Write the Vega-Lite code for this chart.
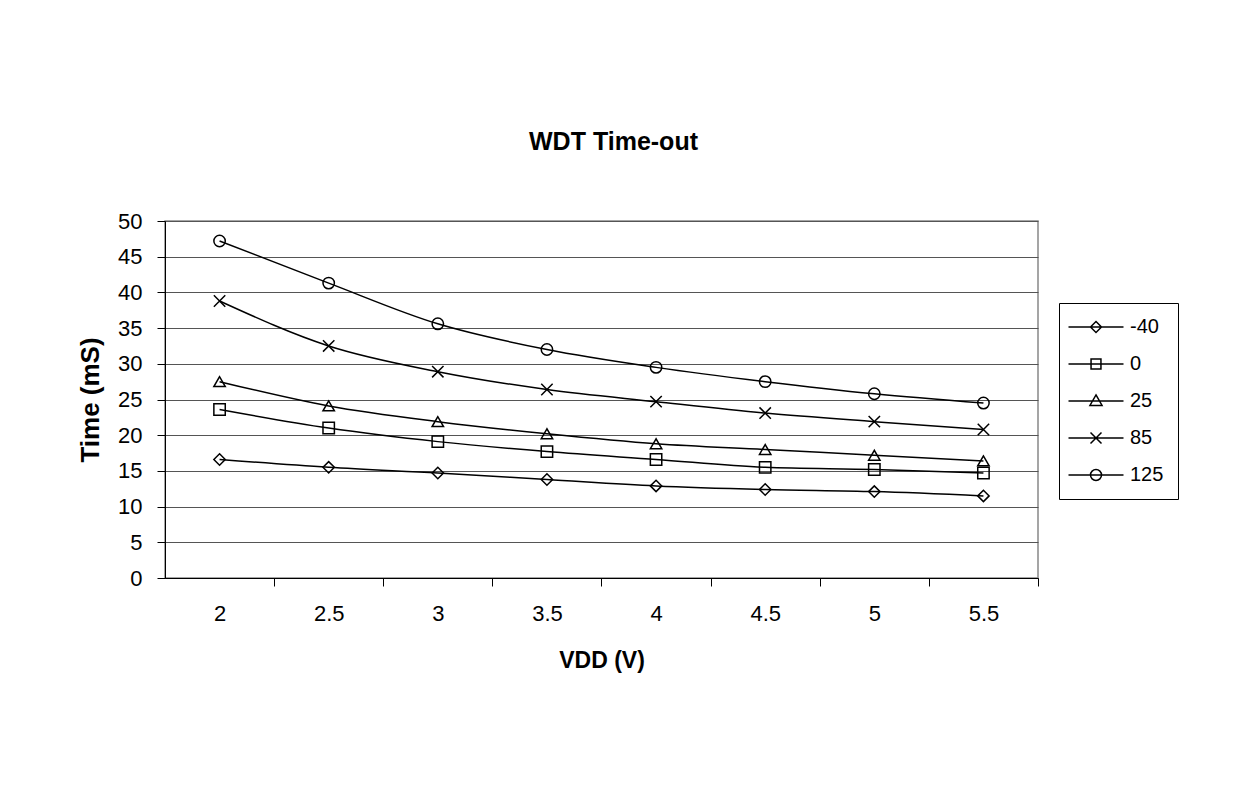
{
  "$schema": "https://vega.github.io/schema/vega-lite/v6.json",
  "width": 873,
  "height": 357,
  "autosize": {"type": "none"},
  "padding": {"left": 165, "top": 221, "right": 214, "bottom": 225},
  "background": "white",
  "config": {
    "font": "Liberation Sans",
    "view": {"stroke": "#888888", "strokeWidth": 1.5},
    "axis": {"labelFont": "Liberation Sans", "titleFont": "Liberation Sans", "labelColor": "black", "titleColor": "black", "domainColor": "black", "tickColor": "black", "labelFontSize": 22}
  },
  "title": {"text": "WDT Time-out", "fontSize": 25, "fontWeight": "bold", "font": "Liberation Sans", "anchor": "middle", "frame": "group", "offset": 55, "dx": 12, "color": "black"},
  "data": {"values": [
    {"vdd": 2, "temp": "-40", "time": 16.6}, {"vdd": 2.5, "temp": "-40", "time": 15.5}, {"vdd": 3, "temp": "-40", "time": 14.7}, {"vdd": 3.5, "temp": "-40", "time": 13.8}, {"vdd": 4, "temp": "-40", "time": 12.9}, {"vdd": 4.5, "temp": "-40", "time": 12.4}, {"vdd": 5, "temp": "-40", "time": 12.1}, {"vdd": 5.5, "temp": "-40", "time": 11.5},
    {"vdd": 2, "temp": "0", "time": 23.6}, {"vdd": 2.5, "temp": "0", "time": 21.0}, {"vdd": 3, "temp": "0", "time": 19.1}, {"vdd": 3.5, "temp": "0", "time": 17.7}, {"vdd": 4, "temp": "0", "time": 16.6}, {"vdd": 4.5, "temp": "0", "time": 15.5}, {"vdd": 5, "temp": "0", "time": 15.2}, {"vdd": 5.5, "temp": "0", "time": 14.7},
    {"vdd": 2, "temp": "25", "time": 27.5}, {"vdd": 2.5, "temp": "25", "time": 24.1}, {"vdd": 3, "temp": "25", "time": 21.9}, {"vdd": 3.5, "temp": "25", "time": 20.2}, {"vdd": 4, "temp": "25", "time": 18.8}, {"vdd": 4.5, "temp": "25", "time": 18.0}, {"vdd": 5, "temp": "25", "time": 17.2}, {"vdd": 5.5, "temp": "25", "time": 16.4},
    {"vdd": 2, "temp": "85", "time": 38.8}, {"vdd": 2.5, "temp": "85", "time": 32.5}, {"vdd": 3, "temp": "85", "time": 28.9}, {"vdd": 3.5, "temp": "85", "time": 26.4}, {"vdd": 4, "temp": "85", "time": 24.7}, {"vdd": 4.5, "temp": "85", "time": 23.1}, {"vdd": 5, "temp": "85", "time": 21.9}, {"vdd": 5.5, "temp": "85", "time": 20.8},
    {"vdd": 2, "temp": "125", "time": 47.2}, {"vdd": 2.5, "temp": "125", "time": 41.3}, {"vdd": 3, "temp": "125", "time": 35.6}, {"vdd": 3.5, "temp": "125", "time": 32.0}, {"vdd": 4, "temp": "125", "time": 29.5}, {"vdd": 4.5, "temp": "125", "time": 27.5}, {"vdd": 5, "temp": "125", "time": 25.8}, {"vdd": 5.5, "temp": "125", "time": 24.5}
  ]},
  "encoding": {
    "x": {"field": "vdd", "type": "quantitative",
      "scale": {"domain": [1.75, 5.75], "nice": false, "zero": false},
      "axis": {"values": [2, 2.5, 3, 3.5, 4, 4.5, 5, 5.5], "format": "~g", "grid": false, "tickOffset": 54.56, "labelOffset": -54.56, "tickSize": 8, "labelPadding": 17, "title": "VDD (V)", "titleFontSize": 23, "titleFontWeight": "bold", "titlePadding": 25}},
    "y": {"field": "time", "type": "quantitative",
      "scale": {"domain": [0, 50], "nice": false},
      "axis": {"values": [0, 5, 10, 15, 20, 25, 30, 35, 40, 45, 50], "grid": true, "gridColor": "#555555", "gridOpacity": 1, "gridWidth": 1, "tickSize": 8, "labelPadding": 15, "title": "Time (mS)", "titleFontSize": 26, "titleFontWeight": "bold", "titlePadding": 14}}
  },
  "layer": [
    {"mark": {"type": "line", "interpolate": "monotone", "color": "black", "strokeWidth": 1.5},
     "encoding": {"detail": {"field": "temp", "type": "nominal"}}},
    {"mark": {"type": "point", "filled": false, "color": "black", "strokeWidth": 1.5, "size": 130, "opacity": 1},
     "encoding": {"shape": {"field": "temp", "type": "nominal",
       "scale": {"domain": ["-40", "0", "25", "85", "125"], "range": ["diamond", "square", "triangle-up", "M-1,-1L1,1M-1,1L1,-1", "circle"]},
       "legend": null}}},
    {"mark": {"type": "point", "filled": false, "color": "black", "strokeWidth": 1.5, "size": 121, "opacity": 0},
     "encoding": {"shape": {"field": "temp", "type": "nominal",
       "scale": {"domain": ["-40", "0", "25", "85", "125"], "range": [
         "M-5,0H5M0,-1L1,0L0,1L-1,0Z",
         "M-5,0H5M-0.9,-0.9H0.9V0.9H-0.9Z",
         "M-5,0H5M0,-1.1L1.1,0.8H-1.1Z",
         "M-5,0H5M-1,-1L1,1M-1,1L1,-1",
         "M-5,0H5M1,0A1,1,0,1,1,-1,0A1,1,0,1,1,1,0Z"]},
       "legend": {"title": null, "orient": "none", "legendX": 894, "legendY": 82, "padding": 14, "strokeColor": "black", "symbolSize": 121, "symbolOpacity": 1, "symbolStrokeColor": "black", "symbolFillColor": "transparent", "symbolStrokeWidth": 1.5, "symbolOffset": 13, "labelOffset": 24, "rowPadding": 17, "labelFontSize": 20, "labelFont": "Liberation Sans", "labelColor": "black"}}}}
  ],
  "resolve": {"scale": {"shape": "independent"}}
}
